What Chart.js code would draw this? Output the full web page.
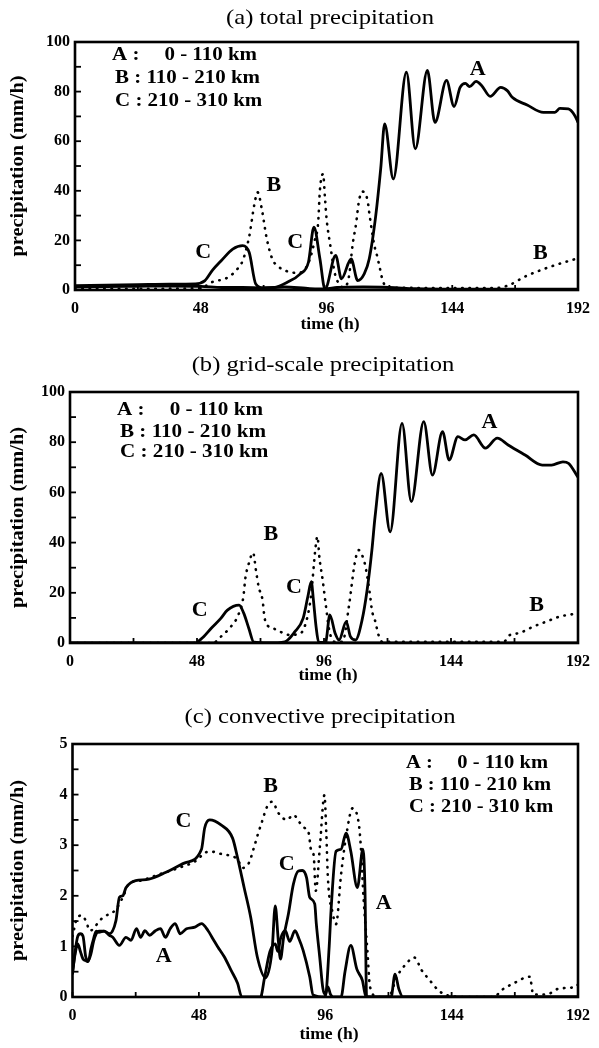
<!DOCTYPE html>
<html>
<head>
<meta charset="utf-8">
<script src="https://cdn.jsdelivr.net/npm/chart.js@4.4.1/dist/chart.umd.min.js"></script>
<style>
  body { margin: 0; background: #fff; width: 599px; height: 1048px; overflow: hidden; position: relative; }
  canvas { position: absolute; left: 0; }
</style>
</head>
<body>
<canvas id="panelA" width="599" height="345" style="top:0px"></canvas>
<canvas id="panelB" width="599" height="355" style="top:345px"></canvas>
<canvas id="panelC" width="599" height="348" style="top:700px"></canvas>
<script>
// ===================================================================
// data (time in h, precipitation in mm/h)

// (a) total precipitation
var totA_t = [0, 12, 24, 36, 48, 56, 64, 72, 80, 88, 93, 95.5, 99.5, 101.7, 105.4, 107.9, 110.4, 112.3, 114.8, 116.7, 118.2, 121.5, 126.5, 129.9, 134.5, 137.4, 141.8, 144.7, 147, 149, 150.6, 153.1, 155.2, 158.5, 162.5, 165, 166.9, 172.6, 178.8, 183.2, 185.1, 188.3, 190.8, 192];
var totA_v = [1.2, 1.4, 1.5, 1.6, 1.5, 1.0, 1.0, 0.8, 1.2, 0.7, 0.4, 0.5, 14, 4.5, 12.5, 3.8, 6.5, 12.5, 30, 49, 67, 44.8, 87.8, 56.9, 88.5, 67.6, 84.5, 74, 81.7, 83.3, 82, 84.1, 82.5, 78.1, 81.7, 80.4, 77.7, 74.6, 71.6, 71.6, 73.2, 73, 70.3, 67.6];
var totB_t = [0, 24, 48, 52.1, 58.4, 62, 64, 66.5, 68.6, 69.7, 71.3, 73.1, 75.3, 77.2, 80.3, 84.7, 87, 89.5, 91.5, 92.8, 93.5, 94.7, 95.4, 96, 97.5, 99.1, 100.4, 102.5, 104.5, 106, 107.3, 108.3, 109.6, 111.7, 112.3, 114.2, 115.4, 116.3, 117.6, 120, 140, 160, 165, 172.6, 182.6, 192];
var totB_v = [0.5, 0.5, 0.8, 3.1, 5.1, 8.5, 11.8, 21.6, 35.3, 39.4, 32.7, 21.2, 12.5, 9.8, 7.8, 6.9, 7.5, 12, 20, 27, 40.5, 46.8, 37.4, 29, 17.6, 7.1, 3.1, 1.0, 5, 18.5, 26.8, 35.3, 39.7, 36, 31.3, 18.3, 13.4, 9.1, 3.3, 1.0, 0.8, 0.8, 1.7, 5.8, 9.8, 12.8];
var totC_t = [0, 12, 24, 36, 46, 49.6, 52.5, 55.8, 60.2, 64, 66.5, 69, 72, 76, 81, 86, 89.1, 91.2, 93.5, 95.4, 100, 110, 120, 130, 150, 170, 192];
var totC_v = [1.8, 2.0, 2.2, 2.4, 2.5, 3.8, 8, 11.8, 16.5, 17.9, 15.1, 2.4, 0.8, 1.0, 3.1, 6.5, 11.2, 25.3, 12.5, 0.5, 1.0, 1.2, 1.0, 0.5, 0.3, 0.3, 0.3];

// (b) grid-scale precipitation
var grdA_t = [0, 96, 96.7, 98.2, 100.2, 101.7, 104.4, 106, 107.9, 110.4, 112.3, 114.1, 115.3, 117.6, 121, 125.5, 129, 133.7, 137, 140.8, 143.3, 146.6, 149.3, 152.6, 157, 161.5, 165.6, 172, 178.5, 182, 186.3, 188.5, 192];
var grdA_v = [0, 0, 0.5, 11.2, 3.9, 1.2, 8.5, 2.5, 1.2, 9.2, 21.1, 37, 50.3, 67.6, 44.3, 87.5, 56.3, 88.2, 66.9, 84.2, 72.9, 82.2, 80.9, 82.9, 77.6, 81.6, 78.9, 74.9, 70.9, 70.9, 72.2, 71.5, 66];
var grdB_t = [0, 54, 57, 60.8, 63.3, 65.5, 66.3, 67.6, 69.2, 70.3, 71.3, 72.8, 73.4, 74, 76.9, 79.4, 83.1, 86, 88.5, 91, 92.8, 93.5, 94.3, 95.5, 96.7, 98, 100, 103, 105.4, 107.6, 109.1, 110.1, 111.6, 113.5, 114.1, 115.3, 116.6, 118, 140, 164, 166, 170, 175, 180, 185, 190, 192];
var grdB_v = [0, 0, 2.5, 6.5, 10.5, 18.2, 26, 31.7, 36, 28.8, 22.4, 16.9, 11.2, 8.1, 5.8, 4.5, 3.2, 3.5, 6, 18, 38, 42.4, 33.7, 25, 15, 5, 0.5, 0.5, 14.5, 31.7, 37, 35.7, 30.8, 18.2, 13.1, 8.9, 3.2, 0.5, 0.5, 0.5, 3, 4, 6.5, 8.5, 10.5, 11.5, 12];
var grdC_t = [0, 48, 48.4, 50.5, 53.3, 57, 59.5, 63.9, 65.7, 67.6, 69.5, 75, 81.2, 85, 88.1, 89.9, 91.2, 92, 93, 94, 100, 192];
var grdC_v = [0, 0, 0.5, 2.5, 5.8, 9.8, 13.1, 15.1, 11.8, 5.8, 0.3, 0, 0.5, 4.5, 9.8, 18.5, 24.4, 17.1, 6.5, 0.3, 0, 0];

// (c) convective precipitation
var cnvA_t = [0, 1, 2, 3, 4, 5, 6, 7, 8, 9, 10, 12, 14, 15.3, 17.8, 20.3, 22.2, 24.3, 25.9, 27.5, 29.3, 31.5, 33.4, 35.3, 37.1, 39, 40.9, 43.3, 46.5, 49, 51.5, 53.3, 55.2, 57.7, 60.2, 62.7, 64.3, 71.4, 73, 75, 77, 78, 79, 80.8, 82.5, 84.5, 86, 87.6, 90.1, 91.4, 96, 97.5, 98.2, 100.1, 102, 103.9, 105.7, 108.2, 110.3, 111.1, 111.7, 121, 122.5, 124, 125.5, 192];
var cnvA_v = [0.5, 0.85, 1.05, 0.9, 0.75, 0.72, 0.7, 0.95, 1.15, 1.3, 1.28, 1.3, 1.22, 1.18, 1.02, 1.18, 1.12, 1.35, 1.18, 1.31, 1.22, 1.31, 1.35, 1.18, 1.35, 1.45, 1.25, 1.35, 1.38, 1.45, 1.31, 1.15, 0.99, 0.79, 0.53, 0.27, 0, 0, 0.4, 0.9, 1.05, 0.9, 1.15, 1.31, 1.1, 1.31, 1.15, 0.92, 0.4, 0.04, 0, 1.0, 1.71, 2.88, 2.92, 3.24, 2.88, 2.16, 2.92, 2.1, 0, 0, 0.45, 0.15, 0, 0];
var cnvB_t = [0, 1.6, 3.4, 5.3, 6.5, 7.8, 10.3, 12.8, 15.3, 17.8, 19.6, 20.9, 22.2, 25.9, 32.7, 40.2, 47.7, 50, 53, 57, 60.8, 62.7, 64.6, 67, 68.9, 70.2, 72, 73.9, 75.8, 78.3, 81.4, 83.9, 86.4, 88.2, 89.9, 90.4, 91.6, 92.4, 94, 95.7, 96.4, 97, 98.9, 100.1, 102, 104, 106.4, 108.8, 109.5, 110.5, 112, 113, 116, 120, 123.2, 126.3, 129.8, 132.6, 135.7, 138.8, 141.9, 150, 160, 163.1, 167.5, 173.7, 175, 180, 185, 191.2, 192];
var cnvB_v = [1.2, 1.54, 1.61, 1.48, 1.31, 1.34, 1.51, 1.61, 1.67, 1.84, 2.03, 2.2, 2.26, 2.3, 2.42, 2.55, 2.72, 2.85, 2.87, 2.82, 2.78, 2.72, 2.55, 2.65, 2.95, 3.18, 3.47, 3.76, 3.86, 3.63, 3.5, 3.6, 3.44, 3.34, 3.2, 2.95, 2.8, 2.1, 3.0, 3.99, 3.24, 2.36, 1.64, 1.44, 2.42, 3.2, 3.73, 3.4, 2.98, 2.0, 0.92, 0.2, 0, 0, 0.4, 0.63, 0.78, 0.53, 0.33, 0.14, 0.04, 0, 0, 0.14, 0.27, 0.4, 0.05, 0.05, 0.17, 0.2, 0.25];
var cnvC_t = [0, 1, 2, 3, 4, 5, 6, 7, 8, 9, 10, 12, 14, 16.5, 17.8, 19.1, 20.3, 22.2, 24, 29, 35.3, 42.7, 49, 50.2, 52.1, 56.4, 60.8, 62.7, 65.2, 67.7, 70.2, 73.3, 75.8, 77, 78.2, 79, 80.2, 82, 83.9, 85.8, 87.3, 88.9, 90.1, 92, 92.6, 93.9, 95.1, 96, 97, 98, 99, 102, 103.5, 105.7, 108, 110.1, 111.5, 192];
var cnvC_v = [0.45, 0.9, 1.2, 1.25, 1.2, 0.8, 0.72, 0.85, 1.1, 1.25, 1.3, 1.3, 1.25, 1.51, 1.97, 2.0, 2.16, 2.26, 2.3, 2.33, 2.46, 2.65, 2.92, 3.34, 3.5, 3.4, 3.14, 2.75, 2.16, 1.57, 0.79, 0.38, 0.92, 1.8, 1.1, 0.75, 1.18, 1.64, 2.23, 2.49, 2.5, 2.36, 1.97, 1.84, 1.45, 0.79, 0.17, 0.05, 0.2, 0.05, 0, 0, 0.5, 1.02, 0.55, 0.33, 0, 0];

// legend text and curve labels [text, time, value]
var legendRows = [['A :', '0 - 110 km'], ['B :', '110 - 210 km'], ['C :', '210 - 310 km']];
var totLabels = [['C', 48.9, 15.2], ['B', 75.9, 42], ['C', 84.1, 19.2], ['A', 153.7, 89], ['B', 177.6, 14.5]];
var grdLabels = [['C', 49, 13.1], ['B', 75.9, 43], ['C', 84.6, 22.2], ['A', 158.5, 88], ['B', 176.4, 15.1]];
var cnvLabels = [['C', 42.1, 3.47], ['A', 34.6, 0.79], ['B', 75.2, 4.16], ['C', 81.4, 2.62], ['A', 118.2, 1.84]];

// ===================================================================
var SERIF = '"Liberation Serif", "Times New Roman", serif';

function pts(t, v) {
    return t.map(function(x, i) { return { x: x, y: v[i] }; });
}

function solid(t, v) {
    return {
        data: pts(t, v), borderColor: '#000', borderWidth: 2.8,
        pointRadius: 0, fill: false, cubicInterpolationMode: 'monotone'
    };
}

function dotted(t, v) {
    return {
        data: pts(t, v), borderColor: '#000', borderWidth: 2.6,
        borderDash: [0.5, 6.8], borderCapStyle: 'round',
        pointRadius: 0, fill: false, cubicInterpolationMode: 'monotone'
    };
}

// the scanned lettering is a bit wider than Liberation Serif
function wideText(ctx, text, x, y, sx, align) {
    ctx.save();
    ctx.translate(x, y);
    ctx.scale(sx, 1);
    ctx.textAlign = align;
    ctx.fillText(text, 0, 0);
    ctx.restore();
}

// frame, inward ticks and all the text of the paper figure
var paperDecor = {
    id: 'paperDecor',
    afterDatasetsDraw: function(chart) {
        var o = chart.options.plugins.paperDecor;
        var ctx = chart.ctx;
        var a = chart.chartArea;
        var xs = chart.scales.x, ys = chart.scales.y;
        ctx.save();
        ctx.strokeStyle = '#000';
        ctx.lineWidth = 1.8;
        ys.ticks.forEach(function(tk) {
            var y = ys.getPixelForValue(tk.value);
            ctx.beginPath(); ctx.moveTo(a.left, y); ctx.lineTo(a.left + 6, y); ctx.stroke();
        });
        xs.ticks.forEach(function(tk) {
            var x = xs.getPixelForValue(tk.value);
            ctx.beginPath(); ctx.moveTo(x, a.bottom); ctx.lineTo(x, a.bottom - 5); ctx.stroke();
        });
        ctx.lineWidth = 2.6;
        ctx.strokeRect(a.left, a.top, a.right - a.left, a.bottom - a.top);

        ctx.fillStyle = '#000';
        ctx.textBaseline = 'middle';
        ctx.font = '22px ' + SERIF;
        wideText(ctx, o.title, o.titleX, o.titleY, 1.12, 'center');

        ctx.font = 'bold 16px ' + SERIF;
        wideText(ctx, 'time (h)', o.xTitleX, o.xTitleY, 1.1, 'center');

        ctx.save();
        ctx.translate(18, (a.top + a.bottom) / 2);
        ctx.rotate(-Math.PI / 2);
        ctx.font = 'bold 18px ' + SERIF;
        wideText(ctx, 'precipitation (mm/h)', 0, 0, 1.13, 'center');
        ctx.restore();

        // legend block: stretch the rows to the width they have in the figure
        ctx.font = 'bold 19px ' + SERIF;
        var full = legendRows[1][0] + ' ' + legendRows[1][1];
        var sx = (o.legendRight - o.legendLeft - 3) / ctx.measureText(full).width;
        legendRows.forEach(function(row, i) {
            if (i === 0) {
                wideText(ctx, row[0], o.legendLeft, o.legendY[i], sx, 'left');
                wideText(ctx, row[1], o.legendRight - 3, o.legendY[i], sx, 'right');
            } else {
                wideText(ctx, row[0] + ' ' + row[1], o.legendLeft + 3, o.legendY[i], sx, 'left');
            }
        });

        ctx.font = 'bold 21px ' + SERIF;
        o.labels.forEach(function(l) {
            wideText(ctx, l[0], xs.getPixelForValue(l[1]), ys.getPixelForValue(l[2]), 1.05, 'center');
        });
        ctx.restore();
    }
};

function makePanel(id, series, yMax, yStep, yLabelStep, pad, left, xHeight, decor) {
    var ctx = document.getElementById(id).getContext('2d');
    return new Chart(ctx, {
        type: 'line',
        data: { datasets: series },
        options: {
            responsive: false,
            animation: false,
            devicePixelRatio: 1,
            layout: { padding: pad },
            plugins: { legend: { display: false }, tooltip: { enabled: false }, paperDecor: decor },
            scales: {
                x: {
                    type: 'linear', min: 0, max: 192,
                    grid: { display: false, drawTicks: false },
                    border: { display: false },
                    afterFit: function(s) { s.height = xHeight; },
                    ticks: {
                        stepSize: 24, padding: 9, color: '#000', maxRotation: 0,
                        font: { family: SERIF, size: 16, weight: 'bold' },
                        callback: function(v) { return v % 48 === 0 ? v : ''; }
                    }
                },
                y: {
                    min: 0, max: yMax,
                    grid: { display: false, drawTicks: false },
                    border: { display: false },
                    afterFit: function(s) { s.width = left; },
                    ticks: {
                        stepSize: yStep, padding: 5, color: '#000',
                        font: { family: SERIF, size: 16, weight: 'bold' },
                        callback: function(v) { return Math.abs(v / yLabelStep - Math.round(v / yLabelStep)) < 1e-6 ? v : ''; }
                    }
                }
            }
        },
        plugins: [paperDecor]
    });
}

document.addEventListener('DOMContentLoaded', function() {
    makePanel('panelA',
        [solid(totA_t, totA_v), dotted(totB_t, totB_v), solid(totC_t, totC_v)],
        100, 10, 20, { top: 42, right: 13, left: 0, bottom: 0 }, 75, 55,
        { title: '(a) total precipitation', titleX: 330, titleY: 18, xTitleX: 330, xTitleY: 325,
          legendLeft: 112, legendRight: 260, legendY: [55, 78, 101], labels: totLabels });

    makePanel('panelB',
        [solid(grdA_t, grdA_v), dotted(grdB_t, grdB_v), solid(grdC_t, grdC_v)],
        100, 10, 20, { top: 47, right: 13, left: 0, bottom: 0 }, 70, 57,
        { title: '(b) grid-scale precipitation', titleX: 323, titleY: 20, xTitleX: 328, xTitleY: 331,
          legendLeft: 117, legendRight: 266, legendY: [65, 87, 107], labels: grdLabels });

    makePanel('panelC',
        [solid(cnvA_t, cnvA_v), dotted(cnvB_t, cnvB_v), solid(cnvC_t, cnvC_v)],
        5, 0.5, 1, { top: 44, right: 13, left: 0, bottom: 0 }, 72.5, 51,
        { title: '(c) convective precipitation', titleX: 320, titleY: 17, xTitleX: 329, xTitleY: 335,
          legendLeft: 406, legendRight: 551, legendY: [63, 85, 107], labels: cnvLabels });
});
</script>
</body>
</html>
